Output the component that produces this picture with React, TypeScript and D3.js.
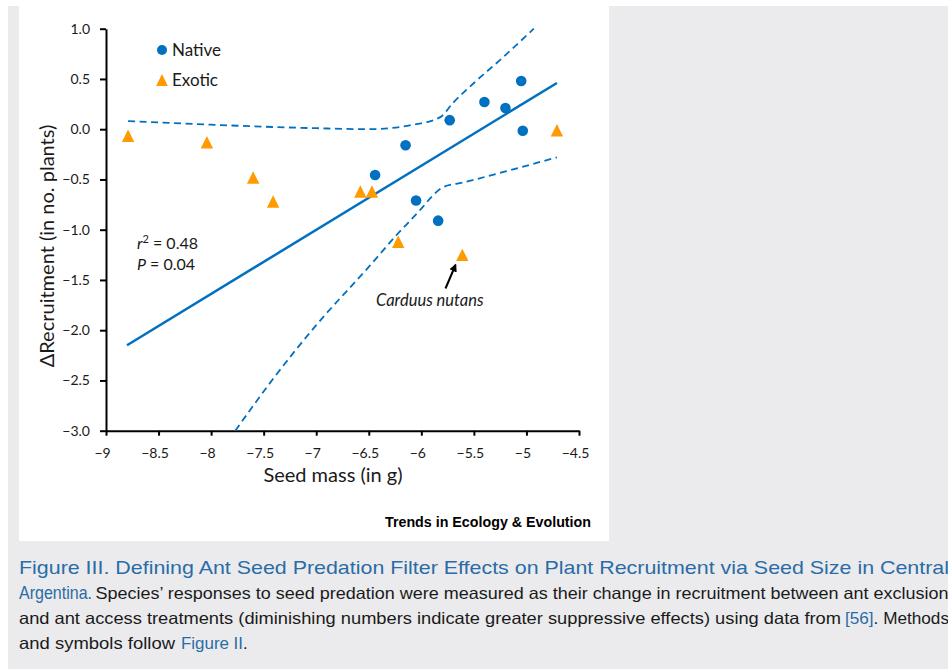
import React, { useEffect, useRef } from "react";
import * as d3 from "d3";

// values (log seed mass vs change in recruitment)
const nativeX = [-5.05, -5.4, -5.2, -5.73, -5.035, -6.15, -6.44, -6.05, -5.84];
const nativeY = [0.48, 0.27, 0.21, 0.09, -0.015, -0.16, -0.455, -0.71, -0.91];

const exoticX = [-8.79, -8.04, -7.6, -7.41, -6.58, -6.47, -6.22, -5.61, -4.71];
const exoticY = [-0.065, -0.13, -0.48, -0.72, -0.62, -0.62, -1.12, -1.25, -0.01];

// fitted line end points
const fitX = [-8.8, -4.71];
const fitY = [-2.15, 0.46];

// confidence band
const upperX = [-8.79, -8.0, -7.5, -7.0, -6.5, -6.1, -5.82, -5.7, -5.5, -5.25, -4.93];
const upperY = [0.08, 0.045, 0.025, 0.01, 0.0, 0.04, 0.12, 0.26, 0.46, 0.69, 1.0];
const lowerX = [-7.77, -7.4, -7.0, -6.5, -6.25, -6.0, -5.9, -5.8, -5.6, -5.2, -4.71];
const lowerY = [-3.0, -2.47, -1.95, -1.37, -1.07, -0.79, -0.67, -0.58, -0.53, -0.42, -0.28];

const xTicks = [-9, -8.5, -8, -7.5, -7, -6.5, -6, -5.5, -5, -4.5];
const xTickLabels = ["−9", "−8.5", "−8", "−7.5", "−7", "−6.5", "−6", "−5.5", "−5", "−4.5"];
const yTicks = [1, 0.5, 0, -0.5, -1, -1.5, -2, -2.5, -3];
const yTickLabels = ["1.0", "0.5", "0.0", "−0.5", "−1.0", "−1.5", "−2.0", "−2.5", "−3.0"];

const blue = "#0070c0";
const orange = "#ff9a00";
const capBlue = "#2a6ca6";
const chartFont = "Lato, 'Open Sans', sans-serif";
const capFont = "'Liberation Sans Narrow', 'Liberation Sans', Arial, sans-serif";

const tri = "M0,-6.2L6.2,6.2L-6.2,6.2Z";

const App = () => {
  const xAxisRef = useRef(null);
  const yAxisRef = useRef(null);

  const x = d3.scaleLinear().domain([-9, -4.5]).range([106, 579]);
  const y = d3.scaleLinear().domain([-3, 1]).range([430.7, 28.7]);

  useEffect(() => {
    const xa = d3.select(xAxisRef.current);
    xa.call(
      d3
        .axisBottom(x)
        .tickValues(xTicks)
        .tickSizeInner(5)
        .tickSizeOuter(0)
        .tickPadding(12)
        .tickFormat((d, i) => xTickLabels[i])
    );
    const ya = d3.select(yAxisRef.current);
    ya.call(
      d3
        .axisLeft(y)
        .tickValues(yTicks)
        .tickSizeInner(6)
        .tickSizeOuter(0)
        .tickPadding(10)
        .tickFormat((d, i) => yTickLabels[i])
    );
    [xa, ya].forEach((a) => {
      a.select(".domain").attr("stroke", "#000").attr("stroke-width", 2);
      a.selectAll(".tick line").attr("stroke", "#000").attr("stroke-width", 2);
      a.selectAll(".tick text")
        .attr("fill", "#1a1a1a")
        .style("font-family", chartFont)
        .style("font-size", "14px");
    });
    xa.selectAll(".tick text").attr("dx", -4);
  }, []);

  const path = (xs: number[], ys: number[], curve = d3.curveLinear) =>
    d3
      .line<number>()
      .x((d) => x(d))
      .y((d, i) => y(ys[i]))
      .curve(curve)(xs);

  return (
    <svg
      width={948}
      height={669}
      style={{ position: "absolute", left: 0, top: 0 }}
    >
      <rect x={8} y={6} width={940} height={663} fill="#ebebed" />
      <rect x={19} y={6} width={590} height={535} fill="#fff" />

      <g ref={xAxisRef} transform="translate(0,430.7)" />
      <g ref={yAxisRef} transform="translate(106,0)" />

      <path
        d={path(upperX, upperY, d3.curveMonotoneX) || ""}
        fill="none"
        stroke={blue}
        strokeWidth={1.8}
        strokeDasharray="7,4.5"
      />
      <path
        d={path(lowerX, lowerY, d3.curveMonotoneX) || ""}
        fill="none"
        stroke={blue}
        strokeWidth={1.8}
        strokeDasharray="7,4.5"
      />
      <path d={path(fitX, fitY) || ""} fill="none" stroke={blue} strokeWidth={2.5} />

      {nativeX.map((d, i) => (
        <circle key={"n" + i} cx={x(d)} cy={y(nativeY[i])} r={5.3} fill={blue} />
      ))}
      {exoticX.map((d, i) => (
        <path
          key={"e" + i}
          d={tri}
          transform={`translate(${x(d)},${y(exoticY[i])})`}
          fill={orange}
        />
      ))}

      {/* legend */}
      <circle cx={162} cy={50} r={5} fill={blue} />
      <text x={172} y={56} fontFamily={chartFont} fontSize={17} fill="#1a1a1a">
        Native
      </text>
      <path d={tri} transform="translate(162,80) scale(0.95)" fill={orange} />
      <text x={172} y={86} fontFamily={chartFont} fontSize={17} fill="#1a1a1a">
        Exotic
      </text>

      {/* stats */}
      <text x={137} y={249} fontFamily={chartFont} fontSize={16} fill="#1a1a1a">
        <tspan fontStyle="italic">r</tspan>
        <tspan fontSize={11} dy={-6}>2</tspan>
        <tspan dy={6}> = 0.48</tspan>
      </text>
      <text x={137} y={270} fontFamily={chartFont} fontSize={16} fill="#1a1a1a">
        <tspan fontStyle="italic">P</tspan> = 0.04
      </text>

      {/* annotation */}
      <defs>
        <marker
          id="arrow"
          viewBox="0 0 10 10"
          refX={8}
          refY={5}
          markerWidth={4}
          markerHeight={4}
          orient="auto"
        >
          <path d="M0,0L10,5L0,10Z" fill="#000" />
        </marker>
      </defs>
      <line
        x1={445.5}
        y1={288.5}
        x2={455.5}
        y2={265}
        stroke="#000"
        strokeWidth={2}
        markerEnd="url(#arrow)"
      />
      <text
        x={376}
        y={306}
        fontFamily={chartFont}
        fontSize={16.5}
        fontStyle="italic"
        fill="#1a1a1a"
      >
        Carduus nutans
      </text>

      {/* axis titles */}
      <text
        x={333}
        y={482}
        textAnchor="middle"
        fontFamily={chartFont}
        fontSize={20}
        fill="#1a1a1a"
      >
        Seed mass (in g)
      </text>
      <text
        transform="translate(54,246) rotate(-90)"
        textAnchor="middle"
        fontFamily={chartFont}
        fontSize={20}
        fill="#1a1a1a"
      >
        ΔRecruitment (in no. plants)
      </text>

      <text
        x={385}
        y={527}
        fontFamily="'Liberation Sans', Arial, sans-serif"
        fontWeight="bold"
        fontSize={14}
        textLength={206}
        lengthAdjust="spacingAndGlyphs"
        fill="#000"
      >
        Trends in Ecology &amp; Evolution
      </text>

      {/* caption */}
      <g fontFamily={capFont}>
        <text x={19} y={574} fontSize={19} fill={capBlue} textLength={930} lengthAdjust="spacingAndGlyphs">
          Figure III. Defining Ant Seed Predation Filter Effects on Plant Recruitment via Seed Size in Central
        </text>
        <text x={19} y={599} fontSize={19} fill={capBlue} textLength={73} lengthAdjust="spacingAndGlyphs">
          Argentina.
        </text>
        <text x={95.5} y={599} fontSize={16.5} fill="#1a1a1a" textLength={853} lengthAdjust="spacingAndGlyphs">
          Species’ responses to seed predation were measured as their change in recruitment between ant exclusion
        </text>
        <text x={19} y={624} fontSize={16.5} fill="#1a1a1a" textLength={822} lengthAdjust="spacingAndGlyphs">
          and ant access treatments (diminishing numbers indicate greater suppressive effects) using data from
        </text>
        <text x={845} y={624} fontSize={16.5} fill="#1a1a1a" textLength={104} lengthAdjust="spacingAndGlyphs">
          <tspan fill={capBlue}>[56]</tspan>. Methods
        </text>
        <text x={19} y={649} fontSize={16.5} fill="#1a1a1a" textLength={156} lengthAdjust="spacingAndGlyphs">
          and symbols follow
        </text>
        <text x={181} y={649} fontSize={16.5} fill={capBlue} textLength={62} lengthAdjust="spacingAndGlyphs">
          Figure II
        </text>
        <text x={243} y={649} fontSize={16.5} fill="#1a1a1a">
          .
        </text>
      </g>
    </svg>
  );
};

export default App;
